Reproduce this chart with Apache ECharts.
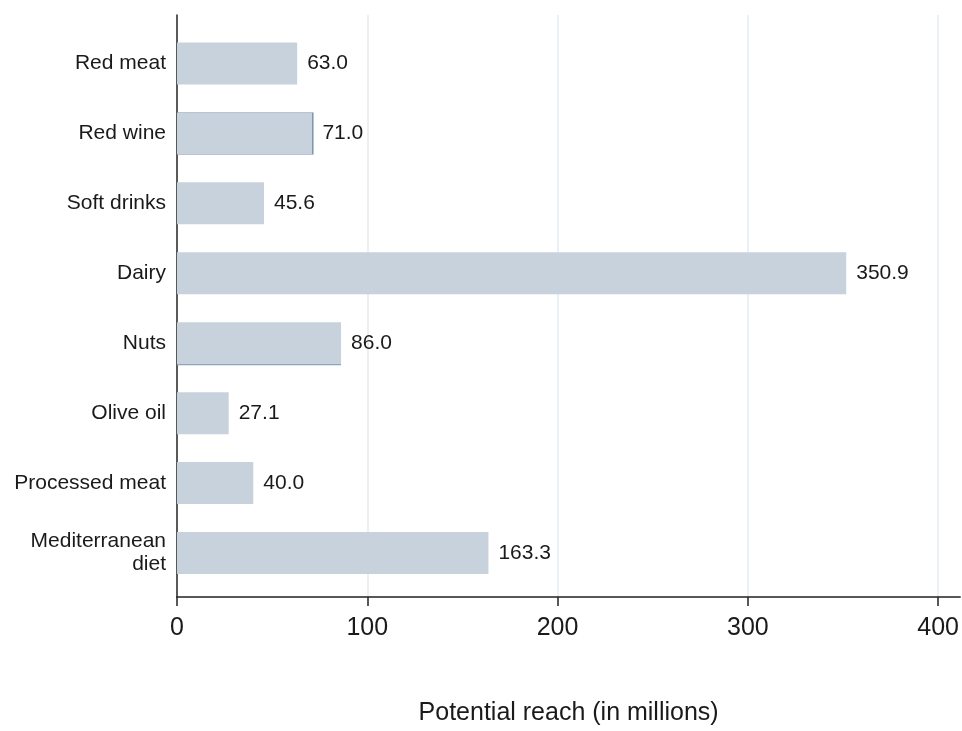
<!DOCTYPE html>
<html>
<head>
<meta charset="utf-8">
<script src="https://cdn.jsdelivr.net/npm/echarts@6/dist/echarts.min.js"></script>
<style>
html,body{margin:0;padding:0;background:#fff;}
#chart{width:962px;height:731px;}
</style>
</head>
<body>
<div id="chart"></div>
<script>
const categories = ["Red meat", "Red wine", "Soft drinks", "Dairy", "Nuts", "Olive oil", "Processed meat", "Mediterranean\ndiet"];
const values = [63.0, 71.0, 45.6, 350.9, 86.0, 27.1, 40.0, 163.3];
const xTicks = [0, 100, 200, 300, 400];
const xTitle = "Potential reach (in millions)";

const FONT = '"Liberation Sans", Arial, sans-serif';
const XMAX = 411.6;

// subtle dark edges seen on two bars in the original
const edgeStyles = {
  1: {shadowColor: '#4f6f8f', shadowOffsetX: 1, shadowOffsetY: 0, shadowBlur: 0},
  4: {shadowColor: '#7d98b3', shadowOffsetX: 0, shadowOffsetY: 1, shadowBlur: 0}
};
const barData = values.map((v, i) => edgeStyles[i] ? {value: v, itemStyle: edgeStyles[i]} : v);

const chart = echarts.init(document.getElementById('chart'), null, {renderer: 'canvas'});
chart.setOption({
  backgroundColor: '#ffffff',
  animation: false,
  textStyle: {fontFamily: FONT},
  grid: [
    {left: 177, right: 0, top: 28.5, bottom: 143, containLabel: false},
    {left: 177, right: 0, top: 15, bottom: 130, containLabel: false}
  ],
  xAxis: [
    {type: 'value', gridIndex: 0, min: 0, max: XMAX, show: false},
    {
      type: 'value', gridIndex: 1, min: 0, max: XMAX, interval: 100,
      name: xTitle, nameLocation: 'middle', nameGap: 104,
      nameTextStyle: {fontSize: 25, color: '#1a1a1a', fontFamily: FONT},
      axisLine: {show: true, lineStyle: {color: '#222', width: 1.5}},
      axisTick: {show: true, length: 9, inside: false, lineStyle: {color: '#222', width: 1.5}},
      axisLabel: {show: true, fontSize: 25, color: '#1a1a1a', margin: 19, fontFamily: FONT,
        showMaxLabel: false,
        formatter: v => xTicks.indexOf(v) >= 0 ? String(v) : ''},
      splitLine: {show: true, showMaxLine: false, showMinLine: false, lineStyle: {color: '#e3edf3', width: 1.5}}
    }
  ],
  yAxis: [
    {
      type: 'category', gridIndex: 0, data: categories, inverse: true,
      axisLine: {show: false}, axisTick: {show: false}, splitLine: {show: false},
      axisLabel: {show: true, fontSize: 21, color: '#1a1a1a', margin: 11, lineHeight: 23, align: 'right', fontFamily: FONT}
    },
    {
      type: 'value', gridIndex: 1, min: 0, max: 1,
      axisLine: {show: true, lineStyle: {color: '#222', width: 1.5}},
      axisTick: {show: false}, axisLabel: {show: false}, splitLine: {show: false}
    }
  ],
  series: [{
    type: 'bar',
    xAxisIndex: 0, yAxisIndex: 0,
    data: barData,
    barWidth: 42,
    itemStyle: {color: '#c7d2dd'},
    label: {show: true, position: 'right', distance: 10, fontSize: 21, color: '#1a1a1a', fontFamily: FONT,
      formatter: p => Number(p.value).toFixed(1)},
    z: 3
  }]
});
</script>
</body>
</html>
